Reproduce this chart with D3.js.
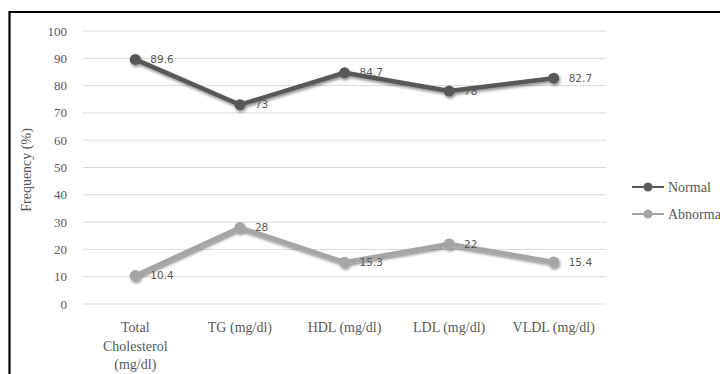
<!DOCTYPE html>
<html><head><meta charset="utf-8">
<script src="https://cdn.jsdelivr.net/npm/d3@7"></script>
<style>html,body{margin:0;padding:0;background:#fff;}svg{display:block;}</style>
</head><body>
<script>
const categories = ["Total Cholesterol (mg/dl)", "TG (mg/dl)", "HDL (mg/dl)", "LDL (mg/dl)", "VLDL (mg/dl)"];
const categoryLines = [["Total","Cholesterol","(mg/dl)"],["TG (mg/dl)"],["HDL (mg/dl)"],["LDL (mg/dl)"],["VLDL (mg/dl)"]];
const normal = [89.6, 73, 84.7, 78, 82.7];
const abnormal = [10.4, 28, 15.3, 22, 15.4];
const yTicks = [0,10,20,30,40,50,60,70,80,90,100];
const seriesNames = ["Normal","Abnormal"];
const seriesColors = ["#595959","#a5a5a5"];

const SERIF = "'Liberation Serif', 'Times New Roman', serif";
const W = 720, H = 374;
const svg = d3.select("body").append("svg").attr("width", W).attr("height", H);

const defs = svg.append("defs");
const f = defs.append("filter").attr("id","sh").attr("x","-20%").attr("y","-50%").attr("width","140%").attr("height","200%");
f.append("feGaussianBlur").attr("in","SourceAlpha").attr("stdDeviation",1.6).attr("result","b");
f.append("feOffset").attr("in","b").attr("dx",0.5).attr("dy",1.5).attr("result","o");
f.append("feComponentTransfer").attr("in","o").attr("result","o2").append("feFuncA").attr("type","linear").attr("slope",0.45);
const m = f.append("feMerge"); m.append("feMergeNode").attr("in","o2"); m.append("feMergeNode").attr("in","SourceGraphic");

// frame
svg.append("path").attr("d","M9.5,374 L9.5,12 L720,12").attr("fill","none").attr("stroke","#000").attr("stroke-width",2.2);

const x = d3.scalePoint().domain(categories).range([83,606]).padding(0.5);
const y = d3.scaleLinear().domain([0,100]).range([304,31]);

// grid
svg.append("g").selectAll("line").data(yTicks).join("line")
  .attr("x1",83).attr("x2",606).attr("y1",d=>y(d)).attr("y2",d=>y(d))
  .attr("stroke","#d9d9d9").attr("stroke-width",1);

// y tick labels
svg.append("g").selectAll("text").data(yTicks).join("text")
  .attr("x",67).attr("y",d=>y(d)).attr("dy","0.35em").attr("text-anchor","end")
  .style("font-family",SERIF).attr("font-size",13).attr("fill","#595959")
  .text(d=>d);

// y title
svg.append("text").attr("transform","translate(31,170) rotate(-90)").attr("text-anchor","middle")
  .style("font-family",SERIF).attr("font-size",14).attr("fill","#595959")
  .text("Frequency (%)");

// x labels
categories.forEach((c,i)=>{
  const t = svg.append("text").attr("text-anchor","middle")
    .style("font-family",SERIF).attr("font-size",14).attr("fill","#595959");
  categoryLines[i].forEach((ln,j)=>{
    t.append("tspan").attr("x",x(c)).attr("y",332+j*18.5).text(ln);
  });
});

const line = d3.line().x((d,i)=>x(categories[i])).y(d=>y(d));
[normal, abnormal].forEach((s,k)=>{
  const g = svg.append("g").attr("filter","url(#sh)");
  g.append("path").datum(s).attr("d",line).attr("fill","none")
    .attr("stroke",seriesColors[k]).attr("stroke-width",4.5).attr("stroke-linejoin","round");
  g.selectAll("circle").data(s).join("circle")
    .attr("cx",(d,i)=>x(categories[i])).attr("cy",d=>y(d)).attr("r",5.5)
    .attr("fill",seriesColors[k]);
  svg.append("g").selectAll("text").data(s).join("text")
    .attr("x",(d,i)=>x(categories[i])+15).attr("y",d=>y(d)).attr("dy","0.35em")
    .style("font-family","'DejaVu Sans', sans-serif").attr("font-size",10.5).attr("fill","#595959")
    .text(d=>d);
});

// legend
seriesNames.forEach((n,k)=>{
  const ly = 187 + k*27;
  svg.append("line").attr("x1",632).attr("x2",664).attr("y1",ly).attr("y2",ly)
    .attr("stroke",seriesColors[k]).attr("stroke-width",2);
  svg.append("circle").attr("cx",648).attr("cy",ly).attr("r",4.5).attr("fill",seriesColors[k]);
  svg.append("text").attr("x",668).attr("y",ly).attr("dy","0.35em")
    .style("font-family",SERIF).attr("font-size",14).attr("fill","#595959").text(n);
});
</script>
</body></html>
